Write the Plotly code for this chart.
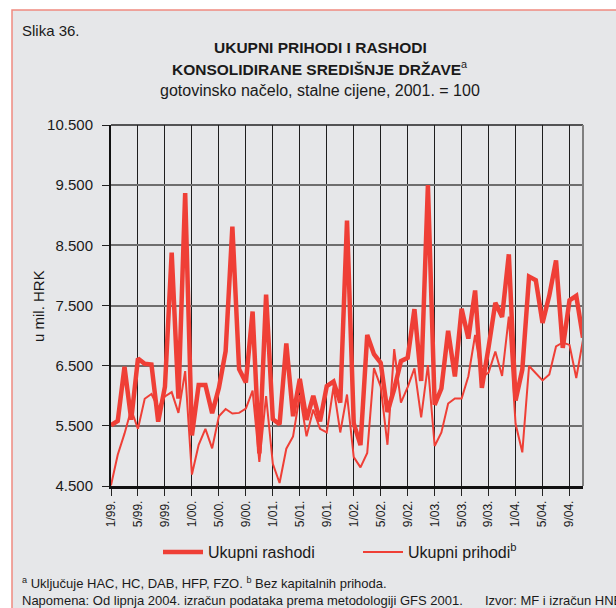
import plotly.graph_objects as go

# Monthly series, January 1999 - November 2004 (million HRK, constant 2001 prices)
years = ["99", "00", "01", "02", "03", "04"]
months = [f"{m}/{yy}." for yy in years for m in range(1, 13)][:71]

tick_labels = ["1/99.", "5/99.", "9/99.", "1/00.", "5/00.", "9/00.", "1/01.", "5/01.",
               "9/01.", "1/02.", "5/02.", "9/02.", "1/03.", "5/03.", "9/03.", "1/04.",
               "5/04.", "9/04."]

y_ticks = [4500, 5500, 6500, 7500, 8500, 9500, 10500]
y_tick_text = ["4.500", "5.500", "6.500", "7.500", "8.500", "9.500", "10.500"]

rashodi = [5510, 5580, 6480, 5600, 6620, 6530, 6520, 5570, 6150, 8380, 5950, 9370,
           5340, 6180, 6180, 5710, 6130, 6740, 8810, 6440, 6220, 7400, 5040, 7680,
           5610, 5525, 6870, 5660, 6280, 5600, 6000, 5575, 6160, 6235, 5885, 8910,
           5540, 5180, 7010, 6690, 6545, 5730, 6110, 6575, 6630, 7440, 6245, 9500,
           5850, 6120, 7080, 6320, 7445, 6950, 7750, 6130, 6810, 7545, 7310, 8350,
           5920, 6435, 7980, 7920, 7210, 7665, 8250, 6795, 7585, 7660, 6965]

prihodi = [4510, 5020, 5370, 5770, 5450, 5950, 6030, 5800, 5990, 6060, 5715, 6410,
           4690, 5185, 5450, 5125, 5660, 5780, 5705, 5715, 5785, 6085, 4900, 5995,
           4870, 4550, 5120, 5325, 6010, 5325, 5770, 5450, 5390, 6150, 5390, 6020,
           4980, 4810, 5050, 6460, 6150, 5185, 6775, 5885, 6145, 6455, 5640, 6510,
           5165, 5390, 5870, 5955, 5955, 6325, 7010, 6310, 6385, 6735, 6330, 7315,
           5535, 5060, 6495, 6375, 6255, 6355, 6820, 6885, 6845, 6295, 6930]

RED = "#ef3f36"
PANEL = "#e6e7e9"
FONT = "Liberation Sans, Arial, sans-serif"

W, H = 616, 608
L, R, T, B = 111, 33, 125, 122


def px(x):
    return (x - L) / (W - L - R)


def py(y):
    return (H - B - y) / (H - T - B)


fig = go.Figure()
fig.add_trace(go.Scatter(x=months, y=rashodi, mode="lines", name="Ukupni rashodi",
                         line=dict(color=RED, width=4.5)))
fig.add_trace(go.Scatter(x=months, y=prihodi, mode="lines", name="Ukupni prihodi<sup>b</sup>",
                         line=dict(color=RED, width=2)))

shapes = [
    # grey panel with salmon border on the left and top
    dict(type="rect", xref="paper", yref="paper", layer="below",
         x0=px(12), x1=px(640), y0=py(640), y1=py(10),
         fillcolor=PANEL, line=dict(color="#f08a80", width=1.5)),
    # frame: top and right edges of the plot area
    dict(type="line", xref="paper", yref="paper", x0=0, x1=1, y0=1, y1=1,
         line=dict(color="#222222", width=1.5)),
    dict(type="line", xref="paper", yref="paper", x0=1, x1=1, y0=0, y1=1,
         line=dict(color="#808080", width=2)),
]

annotations = [
    dict(text="Slika 36.", x=px(20), y=py(30), xanchor="left", yanchor="middle",
         font=dict(size=15)),
    dict(text="<b>UKUPNI PRIHODI I RASHODI</b>", x=px(320), y=py(47),
         xanchor="center", yanchor="middle", font=dict(size=15.5)),
    dict(text="<b>KONSOLIDIRANE SREDIŠNJE DRŽAVE</b><sup>a</sup>", x=px(320), y=py(68),
         xanchor="center", yanchor="middle", font=dict(size=15.5)),
    dict(text="gotovinsko načelo, stalne cijene, 2001. = 100", x=px(320), y=py(90),
         xanchor="center", yanchor="middle", font=dict(size=16)),
    dict(text="u mil. HRK", x=px(38), y=py(306), xanchor="center", yanchor="middle",
         textangle=-90, font=dict(size=15)),
    dict(text="<sup>a</sup> Uključuje HAC, HC, DAB, HFP, FZO. <sup>b</sup> Bez kapitalnih prihoda.",
         x=px(20), y=py(583), xanchor="left", yanchor="middle", font=dict(size=13)),
    dict(text="Napomena: Od lipnja 2004. izračun podataka prema metodologiji GFS 2001.",
         x=px(20), y=py(600), xanchor="left", yanchor="middle", font=dict(size=13)),
    dict(text="Izvor: MF i izračun HNB.", x=px(483), y=py(600), xanchor="left",
         yanchor="middle", font=dict(size=13)),
]
for a in annotations:
    a.update(xref="paper", yref="paper", showarrow=False)

fig.update_layout(
    width=W, height=H,
    margin=dict(l=L, r=R, t=T, b=B, pad=0),
    paper_bgcolor="white",
    plot_bgcolor="rgba(0,0,0,0)",
    font=dict(family=FONT, color="#1a1a1a"),
    shapes=shapes,
    annotations=annotations,
    showlegend=True,
    legend=dict(orientation="h", x=px(158), xanchor="left", y=py(552), yanchor="middle",
                font=dict(size=16), bgcolor="rgba(0,0,0,0)", itemwidth=40,
                entrywidth=145, entrywidthmode="pixels", tracegroupgap=0),
    xaxis=dict(type="category", range=[0, 70], tickmode="array",
               tickvals=tick_labels, ticktext=tick_labels, tickangle=-90,
               ticks="outside", ticklen=7, tickcolor="#222222", tickwidth=1,
               tickfont=dict(size=12), showgrid=True, gridcolor="#1e1e1e", gridwidth=1,
               showline=True, linecolor="#111111", linewidth=2.5, zeroline=False),
    yaxis=dict(range=[4500, 10500], tickmode="array", tickvals=y_ticks,
               ticktext=y_tick_text, ticks="outside", ticklen=7, tickcolor="#222222",
               tickwidth=1, tickfont=dict(size=15), ticklabelstandoff=6,
               showgrid=True, gridcolor="#6e6e6e",
               gridwidth=1.5, showline=True, linecolor="#111111", linewidth=2,
               zeroline=False),
)

fig.write_html("out.html")
